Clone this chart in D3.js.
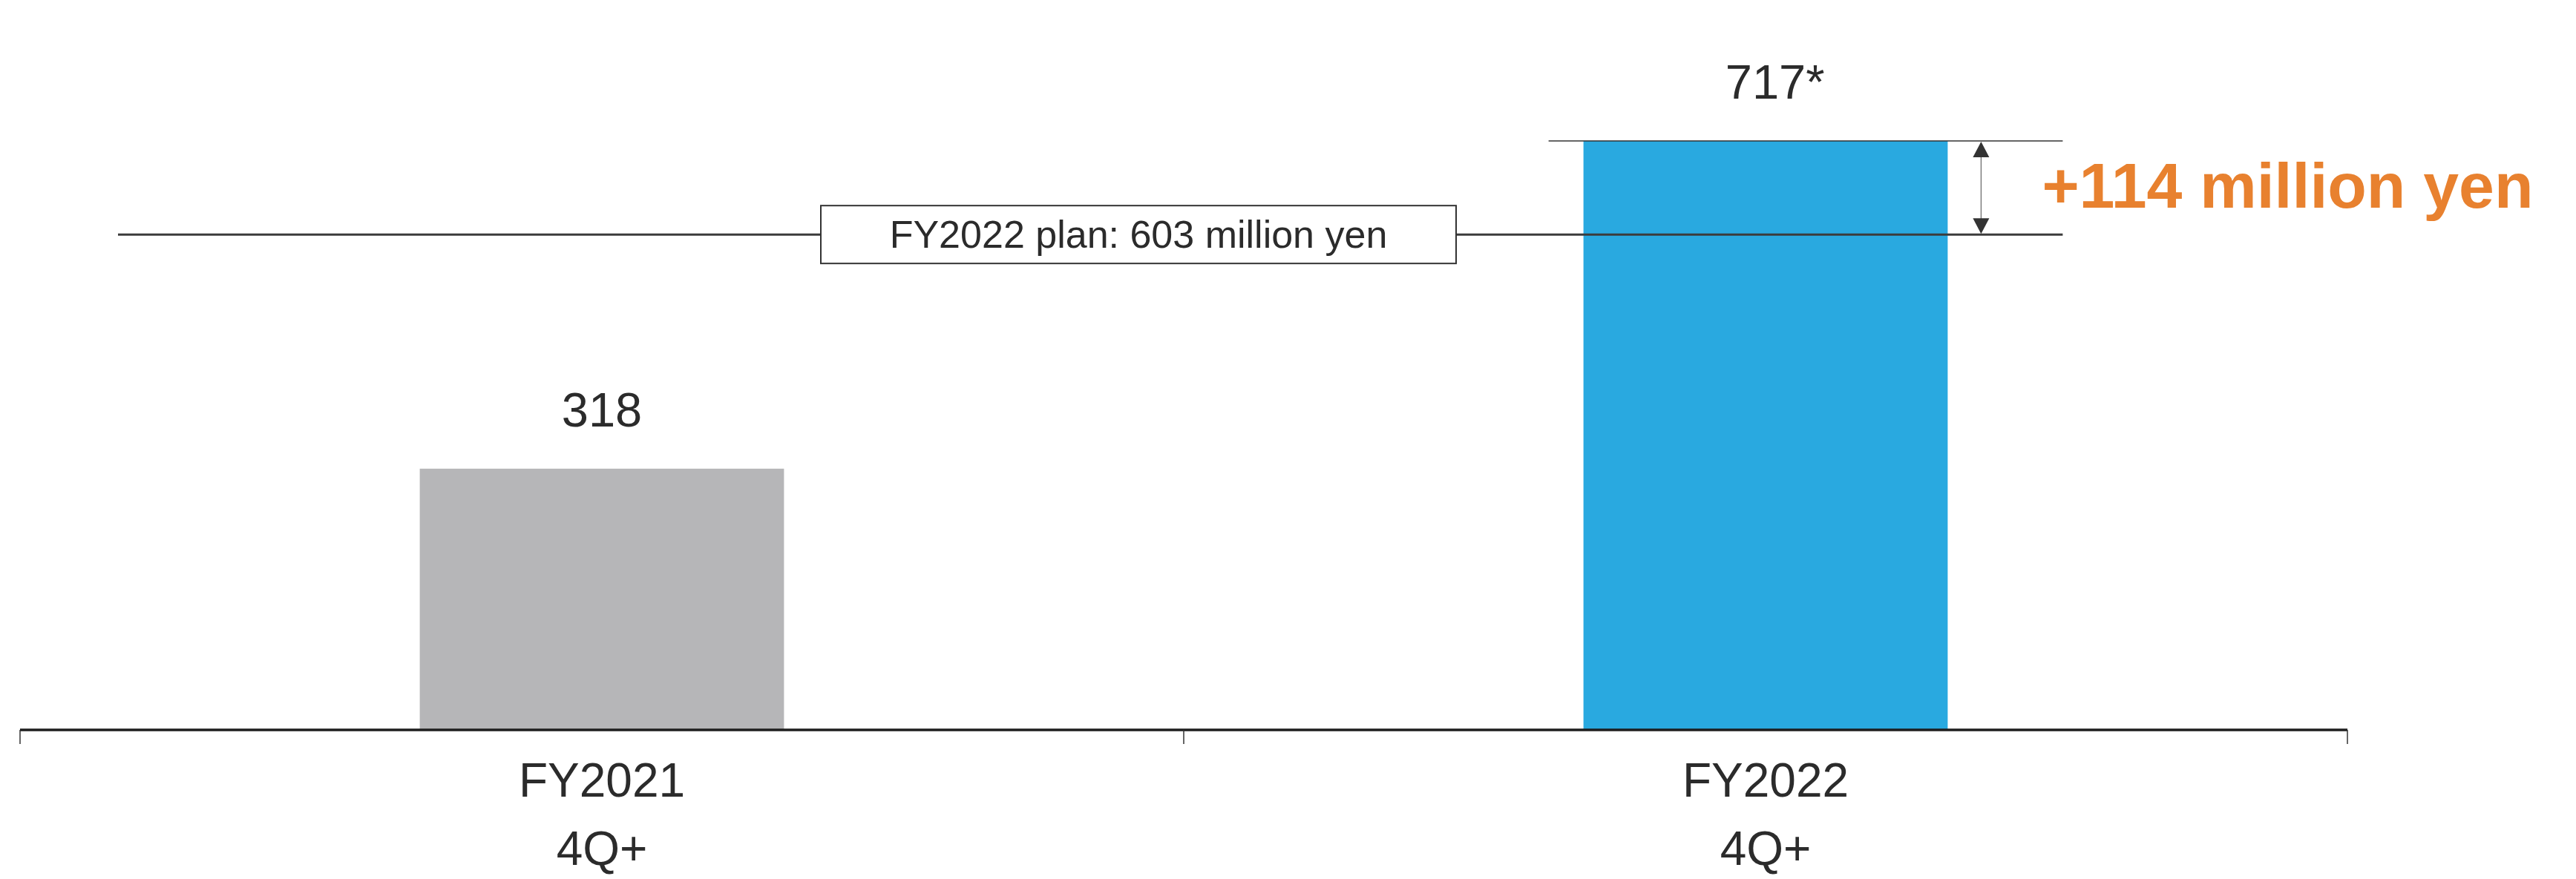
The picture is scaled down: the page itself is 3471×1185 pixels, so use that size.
<!DOCTYPE html>
<html>
<head>
<meta charset="utf-8">
<script src="https://cdn.jsdelivr.net/npm/d3@7"></script>
<style>
  html, body { margin: 0; padding: 0; background: #ffffff; }
  svg { display: block; }
  text { font-family: "Liberation Sans", Arial, Helvetica, sans-serif; }
</style>
</head>
<body>
<svg id="chart" width="3471" height="1185"></svg>
<script>
// Fiscal-year categories and their sub labels
const categories = ["FY2021", "FY2022"];
const subLabels = ["4Q+", "4Q+"];
// Bar values (million yen) and the labels shown above them
const values = [318, 717];
const valueLabels = ["318", "717"];
const valueSuffixes = ["", "*"];
const barColors = ["#b6b6b8", "#29a9e0"];
// FY2022 plan
const planValue = 603;
const planLabel = "FY2022 plan: 603 million yen";

const svg = d3.select("#chart");
const baseY = 984;

const x = d3.scaleBand().domain(categories).range([27, 3163]).paddingInner(0).paddingOuter(0);
const y = d3.scaleLinear().domain([0, 800]).range([baseY, 98]);
const barW = x.bandwidth() * 0.313;
const cx = c => x(c) + x.bandwidth() / 2;

// Bars
svg.selectAll("rect.bar")
  .data(values)
  .join("rect")
  .attr("class", "bar")
  .attr("x", (d, i) => cx(categories[i]) - barW / 2)
  .attr("width", barW)
  .attr("y", d => y(d))
  .attr("height", d => y(0) - y(d))
  .attr("fill", (d, i) => barColors[i]);

// Value labels (number centred on bar, footnote mark appended)
values.forEach((v, i) => {
  const t = svg.append("text")
    .attr("y", y(v) - 57)
    .attr("font-size", 65)
    .attr("fill", "#2b2b2b")
    .text(valueLabels[i]);
  const len = t.node().getComputedTextLength();
  t.attr("x", cx(categories[i]) - len / 2);
  if (valueSuffixes[i]) t.append("tspan").text(valueSuffixes[i]);
});

// Category axis: baseline and boundary ticks
const edges = categories.map(c => x(c)).concat([x(categories[categories.length - 1]) + x.bandwidth()]);
svg.append("line")
  .attr("x1", edges[0]).attr("x2", edges[edges.length - 1])
  .attr("y1", baseY).attr("y2", baseY)
  .attr("stroke", "#1e1e1e").attr("stroke-width", 3.5);
svg.selectAll("line.tick")
  .data(edges)
  .join("line")
  .attr("class", "tick")
  .attr("x1", d => d).attr("x2", d => d)
  .attr("y1", baseY).attr("y2", baseY + 19)
  .attr("stroke", "#333").attr("stroke-width", 1.5);

svg.selectAll("text.cat")
  .data(categories)
  .join("text")
  .attr("class", "cat")
  .attr("x", d => cx(d))
  .attr("y", 1074)
  .attr("text-anchor", "middle")
  .attr("font-size", 64)
  .attr("fill", "#2b2b2b")
  .text(d => d);
svg.selectAll("text.sub")
  .data(subLabels)
  .join("text")
  .attr("class", "sub")
  .attr("x", (d, i) => cx(categories[i]))
  .attr("y", 1166)
  .attr("text-anchor", "middle")
  .attr("font-size", 64)
  .attr("fill", "#2b2b2b")
  .text(d => d);

// Plan line with its boxed label
const planY = y(planValue);
const lineRight = cx(categories[1]) + barW / 2 + 155;
svg.append("line")
  .attr("x1", 159).attr("x2", lineRight)
  .attr("y1", planY).attr("y2", planY)
  .attr("stroke", "#3c3c3c").attr("stroke-width", 3);

const boxCx = x(categories[1]);
const boxW = 856, boxH = 78;
svg.append("rect")
  .attr("x", boxCx - 489).attr("y", planY - boxH / 2)
  .attr("width", boxW).attr("height", boxH)
  .attr("fill", "#ffffff").attr("stroke", "#333").attr("stroke-width", 2);
svg.append("text")
  .attr("x", boxCx - 489 + boxW / 2)
  .attr("y", planY + 18)
  .attr("text-anchor", "middle")
  .attr("font-size", 52)
  .attr("fill", "#2b2b2b")
  .text(planLabel);

// Reference line at the top of the FY2022 bar
const topY = y(values[1]);
svg.append("line")
  .attr("x1", cx(categories[1]) - barW / 2 - 47).attr("x2", lineRight)
  .attr("y1", topY).attr("y2", topY)
  .attr("stroke", "#333").attr("stroke-width", 1.5);

// Double-headed arrow showing the difference over plan
const ax = cx(categories[1]) + barW / 2 + 45;
svg.append("line")
  .attr("x1", ax).attr("x2", ax)
  .attr("y1", topY + 20).attr("y2", planY - 20)
  .attr("stroke", "#666").attr("stroke-width", 1.2);
const head = 22, hw = 11;
svg.append("path")
  .attr("d", `M${ax},${topY + 1} L${ax - hw},${topY + head} L${ax + hw},${topY + head} Z`)
  .attr("fill", "#333");
svg.append("path")
  .attr("d", `M${ax},${planY - 1} L${ax - hw},${planY - head} L${ax + hw},${planY - head} Z`)
  .attr("fill", "#333");

svg.append("text")
  .attr("x", ax + 82)
  .attr("y", (topY + planY) / 2 + 27)
  .attr("font-size", 86)
  .attr("font-weight", "bold")
  .attr("fill", "#e8812f")
  .text(`+${values[1] - planValue} million yen`);
</script>
</body>
</html>
